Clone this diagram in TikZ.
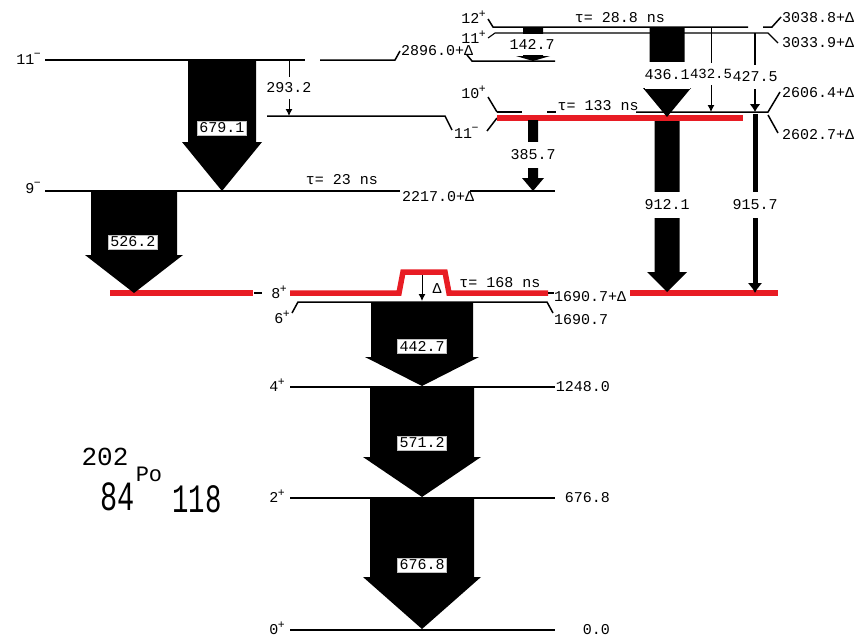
\documentclass[tikz,border=0pt]{standalone}
\usepackage{fontspec}
\setmainfont{Liberation Mono}
\usetikzlibrary{arrows.meta}
\definecolor{isored}{RGB}{232,28,36}
\newcommand\fatarrow[6]{% x, top, headbase, tip, shaft half width, head half width
  \fill[black] ({#1-#5},{#2}) -- ({#1+#5},{#2}) -- ({#1+#5},{#3}) -- ({#1+#6},{#3})
     -- ({#1},{#4}) -- ({#1-#6},{#3}) -- ({#1-#5},{#3}) -- cycle;}
\newcommand\spinlab[2]{#1\kern-0.5pt\raisebox{0.42em}{\fontsize{11.5}{12}\selectfont #2}}
\begin{document}
\begin{tikzpicture}[x=1pt,y=-1pt,
  lvl/.style={line width=1.5pt,black},
  iso/.style={line width=5.5pt,isored},
  txt/.style={inner sep=1pt,font=\fontsize{15}{17}\selectfont},
  elbl/.style={txt,fill=white,draw=gray!50,line width=0.4pt,inner sep=2pt},
  gaplbl/.style={txt,fill=white,inner xsep=0pt,minimum height=#1},
  gaplbl/.default=26pt,
  thinarr/.style={line width=1pt,-{Latex[length=7pt,width=7pt]}}]
\useasboundingbox (0,0) rectangle (854,640);

% ---------- levels: ground band ----------
\draw[lvl] (290,630) coordinate (l0a) -- (555,630) coordinate (l0b);
\node[txt,anchor=east] (s0) at (286,628) {\spinlab{0}{+}};
\node[txt,anchor=east] (e0) at (611,630) {0.0};
\draw[lvl] (290,498) coordinate (l2a) -- (555,498) coordinate (l2b);
\node[txt,anchor=east] (s2) at (286,496) {\spinlab{2}{+}};
\node[txt,anchor=east] (e2) at (611,498) {676.8};
\draw[lvl] (290,387) coordinate (l4a) -- (555,387) coordinate (l4b);
\node[txt,anchor=east] (s4) at (286,385) {\spinlab{4}{+}};
\node[txt,anchor=east] (e4) at (611,387) {1248.0};
% 6+
\draw[lvl] (292,313) -- (298,302) -- (547,302) -- (553,313);
\node[txt,anchor=east] (s6) at (291,317) {\spinlab{6}{+}};
\node[txt,anchor=west] (e6) at (553,320) {1690.7};
% 8+ (isomer)
\draw[iso] (290,293) -- (399,293) -- (403,272) -- (445,272) -- (449,293) -- (548,293);
\draw[lvl] (548,293) -- (554,293);
\node[txt,anchor=west] (e8) at (553,297) {1690.7+Δ};
\draw[iso] (110,293) -- (253,293);
\draw[lvl] (254,293) -- (262,293);
\node[txt,anchor=east] (s8) at (288,292) {\spinlab{8}{+}};
\draw[iso] (630,293) -- (778,293);
% 9-
\draw[lvl] (45,191) -- (400,191);
\draw[lvl] (470,191) -- (555,191);
\node[txt,anchor=west] (e9) at (401,197) {2217.0+Δ};
\node[txt,anchor=east] (s9) at (42,188) {\spinlab{9}{−}};
\node[txt] (tau23) at (342,180) {τ= 23 ns};
% 11- upper (2896.0)
\draw[lvl] (45,60) -- (305,60);
\draw[lvl] (320,60) -- (395,60) -- (400,51);
\draw[lvl] (467,55) -- (472,61) -- (555,61);
\node[txt,anchor=west] (e11a) at (400,51) {2896.0+Δ};
\node[txt,anchor=east] (s11a) at (42,59) {\spinlab{11}{−}};
% 11- lower (2602.7)
\draw[lvl] (267,116) -- (445,116) -- (452,130);
\node[txt,anchor=west] (s11b) at (453,133) {\spinlab{11}{−}};
\draw[lvl] (487,131) -- (497,118);
% 10+ (2606.4)
\draw[lvl] (497,112) -- (522,112);
\draw[lvl] (547,112) -- (556,112);
\draw[lvl] (636,112) -- (768,112) -- (780,92);
\draw[lvl] (488,97) -- (497,112);
\node[txt,anchor=east] (s10) at (487,92) {\spinlab{10}{+}};
\node[txt,anchor=west] (e10) at (781,93) {2606.4+Δ};
\draw[lvl] (768,115) -- (778,133);
\node[txt,anchor=west] (e11b) at (781,135) {2602.7+Δ};
\node[txt] (tau133) at (598,106) {τ= 133 ns};
% red isomer 2602.7
\draw[iso] (497,118) -- (743,118);
% 12+ and 11+
\draw[lvl] (488,19) -- (493,27) -- (748,27);
\draw[lvl] (763,27) -- (772,27) -- (781,17);
\node[txt,anchor=east] (s12) at (487,17) {\spinlab{12}{+}};
\node[txt,anchor=west] (e12) at (781,18) {3038.8+Δ};
\draw[line width=1.1pt] (488,38) -- (495,33) -- (768,33) -- (778,43);
\node[txt,anchor=east] (s11c) at (487,37) {\spinlab{11}{+}};
\node[txt,anchor=west] (e11c) at (781,43) {3033.9+Δ};
\node[txt] (tau288) at (620,18) {τ= 28.8 ns};

% ---------- transitions ----------
\fatarrow{222}{60}{142}{191}{34}{40}
\node[elbl] (g6791) at (222,128) {679.1};
\fatarrow{134}{191}{255}{293}{43}{49}
\node[elbl] (g5262) at (133,242) {526.2};
\fatarrow{422}{302}{357}{386}{51}{57}
\node[elbl] (g4427) at (422,346) {442.7};
\fatarrow{422}{387}{457}{497}{52}{59}
\node[elbl] (g5712) at (422,443) {571.2};
\fatarrow{422}{498}{577}{629}{52}{59}
\node[elbl] (g6768) at (422,565) {676.8};

% 293.2
\coordinate (t2932a) at (289,60);
\coordinate (t2932b) at (289,116);
\draw[thinarr] (t2932a) -- (t2932b);
\node[gaplbl=22pt] (g2932) at (289,88) {293.2};
% Delta
\coordinate (tDa) at (422,275);
\coordinate (tDb) at (422,301);
\draw[thinarr] (tDa) -- (tDb);
\node[txt] (gD) at (437,289) {Δ};
\node[txt] (tau168) at (500,283) {τ= 168 ns};

% 385.7
\fatarrow{533}{120}{178}{191}{5}{11}
\node[gaplbl] (g3857) at (533,155) {385.7};
% 142.7
\fatarrow{533}{28}{56}{61}{10}{17}
\node[gaplbl=21pt] (g1427) at (532,44) {142.7};
% 436.1
\fatarrow{667}{27}{88}{117}{17.5}{24}
\node[gaplbl=27pt] (g4361) at (667,75) {436.1};
% 432.5
\coordinate (t4325a) at (711,27);
\coordinate (t4325b) at (711,112);
\draw[thinarr] (t4325a) -- (t4325b);
\node[gaplbl=22pt,font=\fontsize{14}{16}\selectfont] (g4325) at (711,74) {432.5};
% 427.5
\coordinate (t4275a) at (755,33);
\coordinate (t4275b) at (755,112);
\draw[line width=2.8pt,-{Latex[length=8pt,width=11pt]}] (t4275a) -- (t4275b);
\node[gaplbl=24pt] (g4275) at (755,77) {427.5};
% 912.1
\fatarrow{667}{121}{272}{292}{12.5}{20}
\node[gaplbl] (g9121) at (667,205) {912.1};
% 915.7
\coordinate (t9157a) at (755,114);
\coordinate (t9157b) at (755,293);
\draw[line width=5pt,-{Latex[length=10pt,width=15pt]}] (t9157a) -- (t9157b);
\node[gaplbl] (g9157) at (755,205) {915.7};

% ---------- nucleus label ----------
\node[inner sep=0pt,font=\fontsize{26}{28}\selectfont] (mass) at (105,457) {202};
\node[inner sep=0pt,font=\fontsize{26}{28}\selectfont] (zz) at (118,497) {\scalebox{1.1}[1.6]{84}};
\node[inner sep=0pt,font=\fontsize{22}{24}\selectfont] (el) at (149,474) {Po};
\node[inner sep=0pt,font=\fontsize{26}{28}\selectfont] (nn) at (197,499) {\scalebox{1.05}[1.55]{118}};
\end{tikzpicture}
\end{document}
